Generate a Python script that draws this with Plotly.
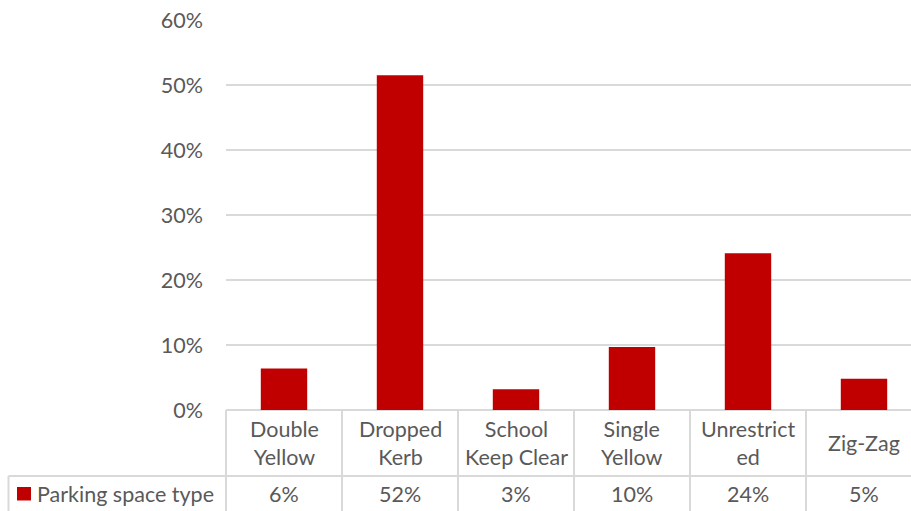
import plotly.graph_objects as go

categories = ["Double<br>Yellow", "Dropped<br>Kerb", "School<br>Keep Clear", "Single<br>Yellow", "Unrestrict<br>ed", "Zig-Zag"]
values = [0.064, 0.515, 0.032, 0.097, 0.241, 0.048]
value_labels = ["6%", "52%", "3%", "10%", "24%", "5%"]
series_name = "Parking space type"
y_ticks = [0, 0.1, 0.2, 0.3, 0.4, 0.5, 0.6]

W, H = 911, 511
L, T, B = 226, 20, 101
plot_h = H - T - B
plot_w = W - L
unit = 116.0
x0 = -0.5
x1 = x0 + plot_w / unit

RED = "#C00000"
GRID = "#D9D9D9"
TXT = "#595959"
FONT = "Lato, 'Open Sans', sans-serif"
FS = 21.5

xs = list(range(len(categories)))

fig = go.Figure()
fig.add_trace(go.Bar(x=xs, y=values, width=0.4, marker=dict(color=RED, line=dict(width=0)),
                     showlegend=False, hoverinfo="skip"))

def px_to_py(p):
    return (H - B - p) / plot_h

def xd_to_paper(x):
    return (x - x0) / (x1 - x0)

def px_to_paperx(p):
    return (p - L) / plot_w

shapes = []
line = dict(color=GRID, width=2)
for i in range(len(categories) + 1):
    xb = i - 0.5
    if xb > x1:
        continue
    shapes.append(dict(type="line", xref="paper", yref="paper",
                       x0=xd_to_paper(xb), x1=xd_to_paper(xb),
                       y0=0, y1=px_to_py(H + 5), line=line))
shapes.append(dict(type="line", xref="paper", yref="paper",
                   x0=px_to_paperx(8.5), x1=1.02, y0=px_to_py(476), y1=px_to_py(476), line=line))
shapes.append(dict(type="line", xref="paper", yref="paper",
                   x0=px_to_paperx(8.5), x1=px_to_paperx(8.5), y0=px_to_py(476), y1=px_to_py(H + 5), line=line))
shapes.append(dict(type="rect", xref="paper", yref="paper",
                   x0=px_to_paperx(17), x1=px_to_paperx(31), y0=px_to_py(500.5), y1=px_to_py(487),
                   fillcolor=RED, line=dict(width=0)))

annotations = []
for i, (c, v) in enumerate(zip(categories, value_labels)):
    annotations.append(dict(x=i, y=px_to_py(443), xref="x", yref="paper", text=c, showarrow=False,
                            font=dict(family=FONT, size=FS, color=TXT), align="center",
                            xanchor="center", yanchor="middle"))
    annotations.append(dict(x=i, y=px_to_py(494), xref="x", yref="paper", text=v, showarrow=False,
                            font=dict(family=FONT, size=FS, color=TXT),
                            xanchor="center", yanchor="middle"))
annotations.append(dict(x=px_to_paperx(35), y=px_to_py(494), xref="paper", yref="paper", text=series_name,
                        showarrow=False, font=dict(family=FONT, size=FS, color=TXT),
                        xanchor="left", yanchor="middle"))

fig.update_layout(
    width=W, height=H,
    margin=dict(l=L, r=0, t=T, b=B, pad=0),
    paper_bgcolor="white", plot_bgcolor="white",
    shapes=shapes, annotations=annotations,
    xaxis=dict(range=[x0, x1], showticklabels=False, showgrid=False, zeroline=False,
               showline=False, ticks=""),
    yaxis=dict(range=[0, 0.6], tickvals=y_ticks, tickformat=".0%", showgrid=True,
               gridcolor=GRID, gridwidth=2, zeroline=True, zerolinecolor=GRID, zerolinewidth=2,
               showline=False, ticks="", ticklabelstandoff=22,
               tickfont=dict(family=FONT, size=FS, color=TXT)),
    bargap=0.6,
)

fig.write_html("out.html")
